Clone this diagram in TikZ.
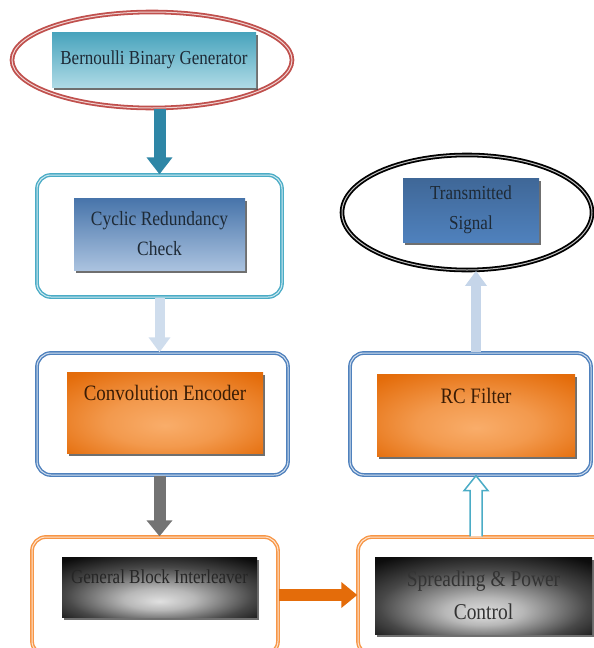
\documentclass[tikz,border=0pt]{standalone}
\usepackage{fontspec}
\setmainfont{Liberation Serif}[FakeStretch=0.86]
\usetikzlibrary{arrows.meta,calc,shadows,shapes.geometric}
\definecolor{redE}{HTML}{C0504D}
\definecolor{tealB}{HTML}{4BACC6}
\definecolor{tealD}{HTML}{2E86A6}
\definecolor{blueB}{HTML}{4F81BD}
\definecolor{blueL}{HTML}{95B3D7}
\definecolor{oranB}{HTML}{F79646}
\definecolor{oranD}{HTML}{E46C0A}
\definecolor{oranL}{HTML}{F9AD6A}
\definecolor{txtD}{HTML}{1E2A36}
\definecolor{txtBr}{HTML}{3A1C05}
\pgfdeclareradialshading{softgray}{\pgfpoint{0bp}{-12bp}}{%
  color(0bp)=(black!12); color(9bp)=(black!28); color(24bp)=(black!72);
  color(36bp)=(black!95); color(60bp)=(black)}
\pgfdeclareradialshading{softorange}{\pgfpoint{0bp}{-8bp}}{%
  color(0bp)=(oranL); color(15bp)=(oranL!70!oranD); color(35bp)=(oranD);
  color(60bp)=(oranD!90!black)}
\begin{document}
\begin{tikzpicture}[x=1pt,y=-1pt,
  outerbox/.style={draw=#1, rounded corners=14pt, line width=1.4pt,
     double=#1!25!white, double distance=1pt, inner sep=0pt, fill=white},
  ovalbox/.style={ellipse, draw=#1, line width=1.8pt, double=#1!25!white,
     double distance=1pt, inner sep=0pt, fill=white},
  rectbase/.style={rectangle, inner sep=0pt, align=center,
     drop shadow={shadow xshift=1.5pt, shadow yshift=-2.5pt, opacity=0.7, fill=black!80}},
  tealrect/.style={rectbase, top color=tealB!95!black, bottom color=tealB!45!white},
  bluerect/.style={rectbase, top color=blueB!90!black, bottom color=blueL!80!white},
  darkbluerect/.style={rectbase, top color=blueB!80!black, bottom color=blueB},
  orangerect/.style={rectbase, shading=softorange},
  blackrect/.style={rectbase, shading=softgray},
  lbl/.style={inner sep=0pt, align=center, font=#1},
  barrow/.style={line width=#1}
]
\useasboundingbox (0,0) rectangle (594,648);

% ---- outer frames ----
\node[ovalbox=redE, minimum width=280, minimum height=96] (bgE) at (152,60) {};
\node[outerbox=tealB, minimum width=245, minimum height=122] (crcO) at (159.5,236) {};
\node[outerbox=blueB, minimum width=251, minimum height=122] (convO) at (162.5,414) {};
\node[outerbox=oranB, minimum width=246, minimum height=118] (gbiO) at (155,596) {};
\node[outerbox=oranB, minimum width=252, minimum height=118] (spO) at (484,596) {};
\node[outerbox=blueB, minimum width=241, minimum height=122] (rcO) at (470.5,414) {};
\node[ovalbox=black, minimum width=250, minimum height=115] (tsE) at (467,212.5) {};

% ---- inner blocks ----
\node[tealrect, minimum width=204, minimum height=55, text=txtD,
  font=\fontsize{19.8}{22}\selectfont] (bg) at (154,59.5) {Bernoulli Binary Generator};
\node[bluerect, minimum width=171, minimum height=72, text=txtD,
  font=\fontsize{20.3}{30}\selectfont] (crc) at (159.5,234) {Cyclic Redundancy\\Check};
\node[orangerect, minimum width=196, minimum height=81] (conv) at (165,412.5) {};
\node[lbl={\fontsize{22}{24}\selectfont}, text=txtBr] (convT) at (165,393) {Convolution Encoder};
\node[blackrect, minimum width=195, minimum height=60] (gbi) at (159.5,587) {};
\node[lbl={\fontsize{19.8}{22}\selectfont}, text=black!85] (gbiT) at (159.5,577) {General Block Interleaver};
\node[blackrect, minimum width=217, minimum height=77, text=black!80,
  font=\fontsize{22.6}{33}\selectfont] (sp) at (483.5,595.5) {Spreading \& Power\\Control};
\node[orangerect, minimum width=198, minimum height=82] (rc) at (476,415) {};
\node[lbl={\fontsize{22}{24}\selectfont}, text=txtBr] (rcT) at (476,396) {RC Filter};
\node[darkbluerect, minimum width=136, minimum height=64, text=txtD,
  font=\fontsize{19.8}{30}\selectfont] (ts) at (471,210) {Transmitted\\Signal};

% ---- connectors ----
\draw[barrow=12pt, draw=tealD, -{Triangle[width=25pt,length=17pt]}]
  (bgE.south -| crcO.north) -- (crcO.north);
\draw[barrow=10pt, draw=blueL!45!white, -{Triangle[width=21pt,length=15pt]}]
  (crcO.south) -- (crcO.south |- convO.north);
\draw[barrow=12pt, draw=black!55, -{Triangle[width=25pt,length=16pt]}]
  (convO.south -| gbi.center) -- (gbiO.north -| gbi.center);
\draw[barrow=12pt, draw=oranD, -{Triangle[width=25pt,length=16pt]}]
  (gbiO.east |- 0,595) -- (spO.west |- 0,595);
% hollow arrow from Spreading to RC Filter
\coordinate (hs) at (spO.north -| rc.center);
\coordinate (ht) at (rcO.south -| rc.center);
\draw[draw=tealB, line width=1.5pt, fill=white, line join=miter]
  ($(hs)+(-6,0)$) -- ($(ht)+(-6,15)$) -- ($(ht)+(-12,15)$) -- (ht)
  -- ($(ht)+(12,15)$) -- ($(ht)+(6,15)$) -- ($(hs)+(6,0)$);
\draw[barrow=10pt, draw=blueL!55!white, -{Triangle[width=21pt,length=15pt]}]
  (rcO.north -| rc.center) -- (tsE.south -| rc.center);
\end{tikzpicture}
\end{document}
